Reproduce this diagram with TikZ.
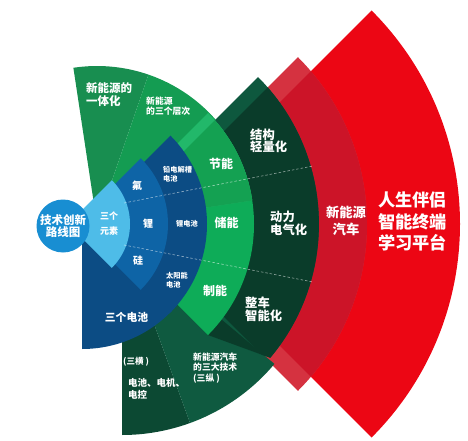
\documentclass[tikz,border=0pt]{standalone}
\usepackage{fontspec}
\newfontfamily\cjk{Noto Sans CJK SC}
\newcommand{\lblfont}[2]{\cjk\bfseries\fontsize{#1}{#2}\selectfont}
% one fan: centre, start angle, end angle, radius
\newcommand{\fan}[4]{(#1) -- ++(#2:#4) arc[start angle=#2, end angle=#3, radius=#4] -- cycle}
\newcommand{\dgshape}{(111,224) -- (258,77) arc[start angle=-45, end angle=40, radius=208] -- (208,335) -- cycle}

\definecolor{redA}{RGB}{236,6,20}
\definecolor{redB}{RGB}{204,20,40}
\definecolor{redW}{RGB}{213,50,64}
\definecolor{dgD}{RGB}{10,60,42}
\definecolor{dgL}{RGB}{14,88,62}
\definecolor{dgH}{RGB}{12,73,51}
\definecolor{dgZ}{RGB}{15,90,64}
\definecolor{grT}{RGB}{24,142,80}
\definecolor{grS}{RGB}{20,156,82}
\definecolor{grBand}{RGB}{34,184,106}
\definecolor{grJ}{RGB}{20,161,82}
\definecolor{grC}{RGB}{14,172,88}
\definecolor{navyM}{RGB}{12,76,132}
\definecolor{blueM}{RGB}{14,100,166}
\definecolor{lblue}{RGB}{78,188,232}
\definecolor{circB}{RGB}{24,142,210}

\begin{document}
\begin{tikzpicture}[x=1pt,y=-1pt,
	lbl/.style={text=white, inner sep=0pt},
	divline/.style={white, opacity=0.55, line width=0.6pt, dash pattern=on 2.5pt off 2pt}]
	\useasboundingbox (0,0) rectangle (468,441);
	
	% red fans
	\fill[redA] \fan{158,224}{-45}{45}{302};
	\fill[redW] \fan{131,224}{-45}{45}{236};
	\begin{scope}
		\clip \fan{158,224}{-45}{45}{302};
		\fill[redB] \fan{131,224}{-45}{45}{236};
	\end{scope}
	
	% turned fans, top and bottom
	\fill[grT] \fan{97,224}{-98.6}{-71}{158};
	\fill[grS] \fan{97,224}{-71}{-8.6}{158};
	\fill[dgH] \fan{122,236}{70}{90}{199};
	\fill[dgZ] \fan{122,236}{40}{70}{199};
	
	% dark green fan
	\fill[dgL] \dgshape;
	\begin{scope}
		\clip \fan{131,224}{-45}{45}{236};
		\fill[dgD] \dgshape;
	\end{scope}
	\begin{scope}
		\clip \fan{122,236}{40}{90}{199};
		\fill[dgD] \dgshape;
	\end{scope}
	
	% three batteries fan
	\fill[navyM] \fan{82,224}{0}{90}{125};
	
	% green fan
	\fill[grC] \fan{97,224}{-45}{45}{157};
	\begin{scope}
		\clip \fan{97,224}{-98.6}{-8.6}{158};
		\fill[grBand] \fan{97,224}{-45}{45}{157};
		\clip \dgshape;
		\fill[grJ] \fan{97,224}{-45}{45}{157};
	\end{scope}
	
	% blue fans
	\fill[navyM] \fan{82,224}{-45}{45}{125};
	\fill[blueM] \fan{75,224}{-45}{45}{93};
	\fill[lblue] \fan{68,224}{-45}{45}{62};
	
	\coordinate (up1) at (124,203);
	\coordinate (up2) at (313,166);
	\coordinate (lo1) at (124,245);
	\coordinate (lo2) at (313,282);
	\draw[divline] (up1) -- (up2);
	\draw[divline] (lo1) -- (lo2);
	
	\node[circle, fill=circB, minimum size=53, inner sep=0pt, align=center, text=white, font=\lblfont{11.5}{12.5}] (circ) at (63,226) {技术创新\\路线图};
	
	\node[lbl, align=center, font=\lblfont{9}{15}] (elem) at (109,223.5) {三个\\元素};
	\node[lbl, font=\lblfont{10}{10}] (fu) at (137,186) {氟};
	\node[lbl, font=\lblfont{10}{10}] (li) at (148,224) {锂};
	\node[lbl, font=\lblfont{10}{10}] (gui) at (138,261) {硅};
	\node[lbl, anchor=west, align=left, font=\lblfont{7.2}{8.6}] (qian) at (163,174.5) {铅电解槽\\电池};
	\node[lbl, font=\lblfont{7.2}{8.6}] (lidc) at (187,224) {锂电池};
	\node[lbl, anchor=west, align=left, font=\lblfont{7.2}{8.6}] (taiy) at (166,280) {太阳能\\电池};
	\node[lbl, font=\lblfont{10.8}{11}] (sandc) at (126.5,317.5) {三个电池};
	
	\node[lbl, font=\lblfont{12}{12}] (jie) at (221,164) {节能};
	\node[lbl, font=\lblfont{12}{12}] (chu) at (226.5,223) {储能};
	\node[lbl, font=\lblfont{12}{12}] (zhi) at (215,291) {制能};
	
	\node[lbl, anchor=west, align=left, font=\lblfont{12.3}{12.5}] (jiegou) at (250,141) {结构\\轻量化};
	\node[lbl, anchor=west, align=left, font=\lblfont{12.3}{12.5}] (dongli) at (270,223.5) {动力\\电气化};
	\node[lbl, anchor=west, align=left, font=\lblfont{12.3}{13}] (zhengche) at (245,309) {整车\\智能化};
	
	\node[lbl, align=center, font=\lblfont{13.3}{16.5}] (xinche) at (346,221) {新能源\\汽车};
	\node[lbl, align=center, font=\lblfont{17.2}{21.3}] (rensheng) at (412.5,221.5) {人生伴侣\\智能终端\\学习平台};
	
	\node[lbl, anchor=west, align=left, font=\lblfont{11.5}{13.5}] (yiti) at (86,94.5) {新能源的\\一体化};
	\node[lbl, anchor=west, align=left, font=\lblfont{8.8}{10}] (cengci) at (146,106) {新能源\\的三个层次};
	
	\node[lbl, anchor=west, font=\lblfont{8.5}{9}] (sanheng) at (123,362) {(三横 )};
	\node[lbl, anchor=west, align=left, font=\lblfont{9.5}{12}] (sandian) at (128,389) {电池、电机、\\电控};
	\node[lbl, anchor=west, align=left, font=\lblfont{8.8}{10.3}] (sanzong) at (193,368) {新能源汽车\\的三大技术\\(三纵 )};
	
\end{tikzpicture}
\end{document}
